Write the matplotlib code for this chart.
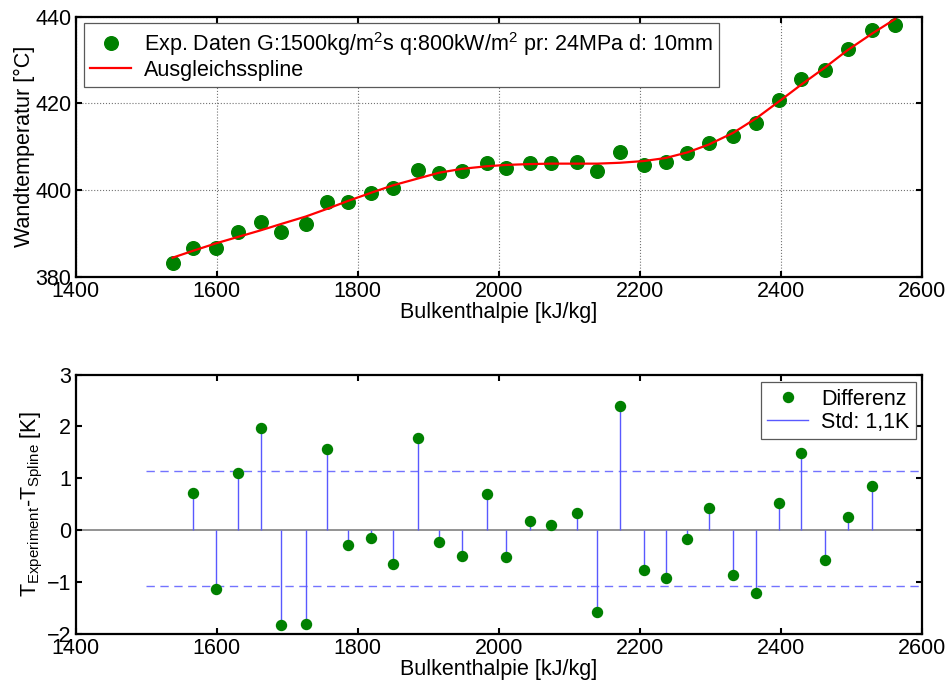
import numpy as np
import matplotlib
matplotlib.use('Agg')
import matplotlib.pyplot as plt
from matplotlib.lines import Line2D

# experimental wall temperature over bulk enthalpy
h_exp = [1537.7, 1566.9, 1599.0, 1630.6, 1662.3, 1692.0, 1726.5, 1757.2, 1786.4, 1819.5,
         1850.2, 1886.1, 1915.3, 1947.9, 1983.3, 2010.7, 2043.8, 2074.5, 2110.8, 2139.6,
         2171.7, 2205.7, 2236.6, 2267.5, 2297.7, 2332.3, 2365.3, 2396.9, 2428.6, 2462.6,
         2494.6, 2529.2, 2562.2]
T_exp = [383.1, 386.6, 386.6, 390.4, 392.7, 390.3, 392.1, 397.3, 397.2, 399.3,
         400.4, 404.6, 403.9, 404.5, 406.3, 405.2, 406.2, 406.2, 406.4, 404.3,
         408.7, 405.9, 406.4, 408.6, 410.9, 412.5, 415.5, 420.9, 425.7, 427.8,
         432.5, 436.9, 438.2]
# smoothing spline evaluated at the same enthalpies
T_spline = [384.4, 386.0, 387.7, 389.2, 390.7, 392.2, 393.9, 395.7, 397.5, 399.4,
            401.1, 402.7, 404.0, 404.9, 405.5, 405.8, 406.0, 406.1, 406.1, 406.1,
            406.3, 406.7, 407.4, 408.7, 410.5, 413.2, 416.6, 420.4, 424.3, 428.3,
            432.3, 436.1, 439.5]
# residuals T_exp - T_spline (inner points)
h_diff = h_exp[1:-1]
T_diff = [0.72, -1.13, 1.10, 1.97, -1.83, -1.81, 1.56, -0.28, -0.15, -0.65,
          1.78, -0.22, -0.50, 0.70, -0.51, 0.19, 0.10, 0.34, -1.58, 2.40,
          -0.77, -0.92, -0.16, 0.43, -0.86, -1.21, 0.53, 1.49, -0.57, 0.25, 0.86]

green = (0, 0.5, 0)
fs = 15.5

plt.rcParams['font.family'] = ['Liberation Sans', 'DejaVu Sans']
plt.rcParams['mathtext.default'] = 'regular'
plt.rcParams['font.size'] = fs

fig = plt.figure(figsize=(9.5, 6.86), dpi=100)
ax1 = fig.add_axes([0.0795, 0.5966, 0.891, 0.379])
ax2 = fig.add_axes([0.0795, 0.0754, 0.891, 0.3786])

for ax in (ax1, ax2):
    for s in ax.spines.values():
        s.set_linewidth(1.6)
    ax.tick_params(direction='in', length=4, width=1.5, top=True, right=True,
                   labelsize=fs, pad=3)
    ax.set_xlim(1400, 2600)
    ax.set_xticks(np.arange(1400, 2601, 200))
    ax.set_xlabel('Bulkenthalpie [kJ/kg]', fontsize=fs, labelpad=0)

# top: measurement and spline
ax1.plot(h_exp, T_exp, 'o', color=green, ms=9.8, mec=green,
         label='Exp. Daten G:1500kg/m$^2$s q:800kW/m$^2$ pr: 24MPa d: 10mm')
ax1.plot(h_exp, T_spline, '-', color='red', lw=1.6, label='Ausgleichsspline')
ax1.set_ylim(380, 440)
ax1.set_yticks(np.arange(380, 441, 20))
ax1.grid(True, linestyle=':', color='0.45', linewidth=0.8)
ax1.set_axisbelow(True)
ax1.set_ylabel('Wandtemperatur [°C]', fontsize=fs, labelpad=0)
leg1 = ax1.legend(loc='upper left', bbox_to_anchor=(0.01, 0.975), borderaxespad=0,
                  fontsize=fs, fancybox=False, framealpha=1, edgecolor='0.35',
                  handlelength=1.9, handletextpad=0.6, labelspacing=0.1,
                  borderpad=0.3, numpoints=1)
leg1.get_frame().set_linewidth(0.9)

# bottom: residuals
mean = np.mean(T_diff)
std = np.std(T_diff, ddof=1)
ax2.axhline(0, color='0.5', lw=1.2, zorder=1)
ax2.vlines(h_diff, 0, T_diff, color=(0.35, 0.35, 1), lw=1.0, zorder=2)
ax2.plot(h_diff, T_diff, 'o', color=green, mec=green, ms=7.2, zorder=3)
ax2.hlines([mean + std, mean - std], 1500, 2600, color=(0.45, 0.45, 1), lw=1.0,
           linestyles=(0, (6, 4)), zorder=1)
ax2.set_ylim(-2, 3)
ax2.set_yticks(np.arange(-2, 4, 1))
ax2.set_ylabel('T$_{Experiment}$-T$_{Spline}$ [K]', fontsize=fs, labelpad=1)
handles = [Line2D([], [], marker='o', ls='none', color=green, ms=7.2),
           Line2D([], [], color=(0.35, 0.35, 1), lw=1.0)]
leg2 = ax2.legend(handles, ['Differenz', 'Std: 1,1K'], loc='upper right',
                  bbox_to_anchor=(0.9926, 0.97), borderaxespad=0, fontsize=fs,
                  fancybox=False, framealpha=1, edgecolor='0.35',
                  handlelength=1.9, handletextpad=0.6, labelspacing=0.1,
                  borderpad=0.3)
leg2.get_frame().set_linewidth(0.9)

fig.savefig('out.png', dpi=100)
